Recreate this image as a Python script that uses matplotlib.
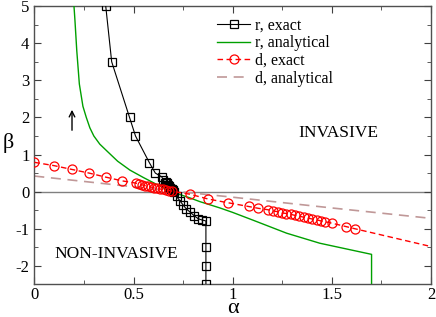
import numpy as np
import matplotlib
matplotlib.use('Agg')
import matplotlib.pyplot as plt
from matplotlib.ticker import MultipleLocator

# r, exact (black squares)
alpha_r = [0.36, 0.39, 0.48, 0.51, 0.58, 0.61, 0.642, 0.65, 0.658,
           0.665, 0.669, 0.673, 0.677, 0.681, 0.685, 0.689, 0.693, 0.697,
           0.701, 0.705, 0.717, 0.733, 0.75, 0.767, 0.785, 0.806, 0.826,
           0.843, 0.865, 0.865, 0.865, 0.865]
beta_r = [5.0, 3.5, 2.0, 1.5, 0.78, 0.5, 0.4, 0.32, 0.23,
          0.26, 0.22, 0.19, 0.16, 0.13, 0.10, 0.08, 0.06, 0.04,
          0.02, 0.0, -0.13, -0.24, -0.36, -0.47, -0.55, -0.65, -0.73,
          -0.76, -0.79, -1.5, -2.0, -2.5]

# r, analytical (green)
alpha_ra = [0.2, 0.205, 0.214, 0.227, 0.245, 0.262, 0.28, 0.30, 0.33, 0.365,
            0.42, 0.482, 0.55, 0.633, 0.70, 0.78, 0.835, 0.936, 1.0,
            1.103, 1.272, 1.439, 1.70, 1.70]
beta_ra = [5.0, 4.6, 3.8, 2.9, 2.3, 2.0, 1.72, 1.50, 1.28, 1.10,
           0.82, 0.58, 0.38, 0.15, -0.02, -0.16, -0.27, -0.44, -0.56,
           -0.77, -1.12, -1.39, -1.69, -2.5]

# d, exact (red circles); last point has no marker
alpha_d = [0.0, 0.1, 0.188, 0.276, 0.361, 0.443, 0.512, 0.53, 0.545, 0.56,
           0.575, 0.59, 0.605, 0.62, 0.635, 0.65, 0.665, 0.68, 0.695, 0.785,
           0.877, 0.977, 1.08, 1.13, 1.18, 1.204, 1.226, 1.248, 1.27, 1.292,
           1.314, 1.336, 1.358, 1.38, 1.402, 1.424, 1.446, 1.465, 1.50, 1.57,
           1.616, 2.0]
beta_d = [0.79, 0.70, 0.60, 0.50, 0.39, 0.29, 0.23, 0.20, 0.18, 0.16,
          0.14, 0.12, 0.11, 0.09, 0.07, 0.06, 0.04, 0.03, 0.01, -0.07,
          -0.2, -0.3, -0.40, -0.45, -0.49, -0.52, -0.54, -0.57, -0.59, -0.61,
          -0.64, -0.66, -0.69, -0.71, -0.74, -0.76, -0.79, -0.81, -0.85, -0.94,
          -1.0, -1.48]

# d, analytical (pink dashed)
alpha_da = [0.0, 0.5, 1.0, 1.5, 2.0]
beta_da = [0.42, 0.13, -0.15, -0.44, -0.72]

plt.rcParams['font.family'] = ['Liberation Serif', 'DejaVu Serif']

fig = plt.figure(figsize=(4.36, 3.17), dpi=100)
ax = fig.add_axes([0.0787, 0.1028, 0.91, 0.878])

ax.axhline(0, color='#808080', lw=1.0, zorder=1)

ax.plot(alpha_r, beta_r, '-', color='black', lw=0.8, marker='s', ms=6,
        mfc='none', mec='black', mew=0.9, label='r, exact', zorder=4)
ax.plot(alpha_ra, beta_ra, '-', color='#00a000', lw=1.0,
        label='r, analytical', zorder=3)
ax.plot(alpha_d, beta_d, '--', color='red', lw=1.0, dashes=(4, 2.5),
        marker='o', ms=6.5, mfc='none', mec='red', mew=0.9,
        markevery=list(range(len(alpha_d) - 1)), label='d, exact', zorder=4)
ax.plot(alpha_da, beta_da, '--', color='#c09898', lw=1.2, dashes=(6, 4),
        label='d, analytical', zorder=2)

ax.annotate('', xy=(0.19, 2.28), xytext=(0.19, 1.58),
            arrowprops=dict(arrowstyle='->', color='black', lw=1.0))
ax.text(1.53, 1.57, 'INVASIVE', fontsize=12.5, ha='center', va='center')
ax.text(0.415, -1.68, 'NON-INVASIVE', fontsize=12.5, ha='center', va='center')

ax.set_xlim(0, 2)
ax.set_ylim(-2.5, 5)
ax.xaxis.set_minor_locator(MultipleLocator(0.25))
ax.yaxis.set_minor_locator(MultipleLocator(0.5))
ax.set_xticks([0, 0.5, 1, 1.5, 2])
ax.set_xticklabels(['0', '0.5', '1', '1.5', '2'])
ax.set_yticks([-2, -1, 0, 1, 2, 3, 4, 5])
ax.set_yticklabels(['-2', '-1', '0', '1', '2', '3', '4', '5'])
ax.tick_params(which='both', direction='in', top=True, right=True,
               labelsize=12, color='#404040')
ax.tick_params(which='major', length=5)
ax.tick_params(which='minor', length=3)
ax.tick_params(axis='x', pad=2)
for s in ax.spines.values():
    s.set_color('#505050')
    s.set_linewidth(1.0)

ax.set_xlabel('α', fontsize=16)
ax.set_ylabel('β', fontsize=16, rotation=0)
ax.xaxis.set_label_coords(0.5, -0.103)
ax.xaxis.label.set_va('baseline')
ax.yaxis.set_label_coords(-0.066, 0.509)
ax.yaxis.label.set_va('center')
ax.yaxis.label.set_ha('center')

ax.legend(loc='upper left', bbox_to_anchor=(0.46, 0.96), frameon=False,
          fontsize=11.5, handlelength=2.1, handletextpad=0.3,
          labelspacing=0.12, borderpad=0, borderaxespad=0)

fig.savefig('out.png', dpi=100)
